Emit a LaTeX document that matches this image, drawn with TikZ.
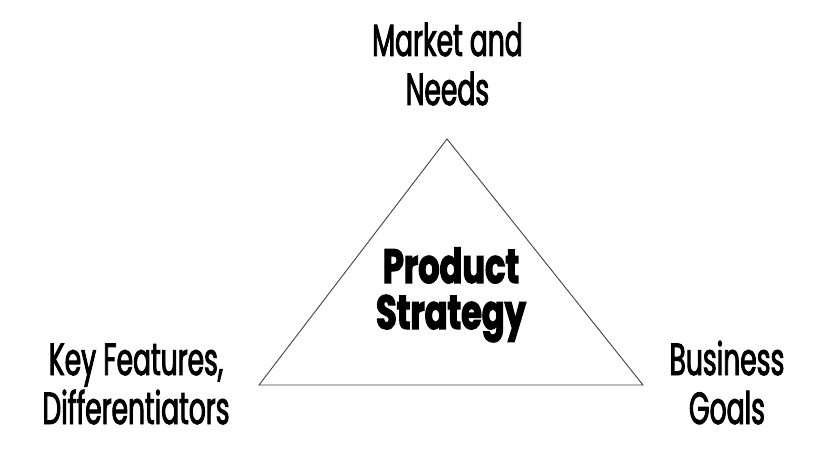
\documentclass[tikz,border=0pt]{standalone}
\usepackage{fontspec}
\setmainfont[FakeStretch=0.59,FakeBold=2]{Poppins}
\newfontfamily\titlefont[FakeStretch=0.70,BoldFeatures={FakeBold=2.5}]{Poppins}
\begin{document}
\begin{tikzpicture}[x=1pt,y=1pt,
  lbl/.style={align=center,anchor=base,inner sep=0pt,font=\fontsize{45}{49}\selectfont},
  title/.style={lbl,font=\titlefont\bfseries\fontsize{48}{46}\selectfont}]
\useasboundingbox (0,0) rectangle (820,461);
\coordinate (apex) at (447,322);
\coordinate (bl) at (259,76);
\coordinate (br) at (643,76);
\draw[line width=0.9pt,black!75] (apex) -- (bl) -- (br) -- cycle;
\node[lbl] (market) at (447.5,356) {Market and\\Needs};
\node[title] (prod) at (451,132) {Product\\Strategy};
\node[lbl] (key) at (136,37) {Key Features,\\Differentiators};
\node[lbl] (biz) at (727,37) {Business\\Goals};
\end{tikzpicture}
\end{document}
